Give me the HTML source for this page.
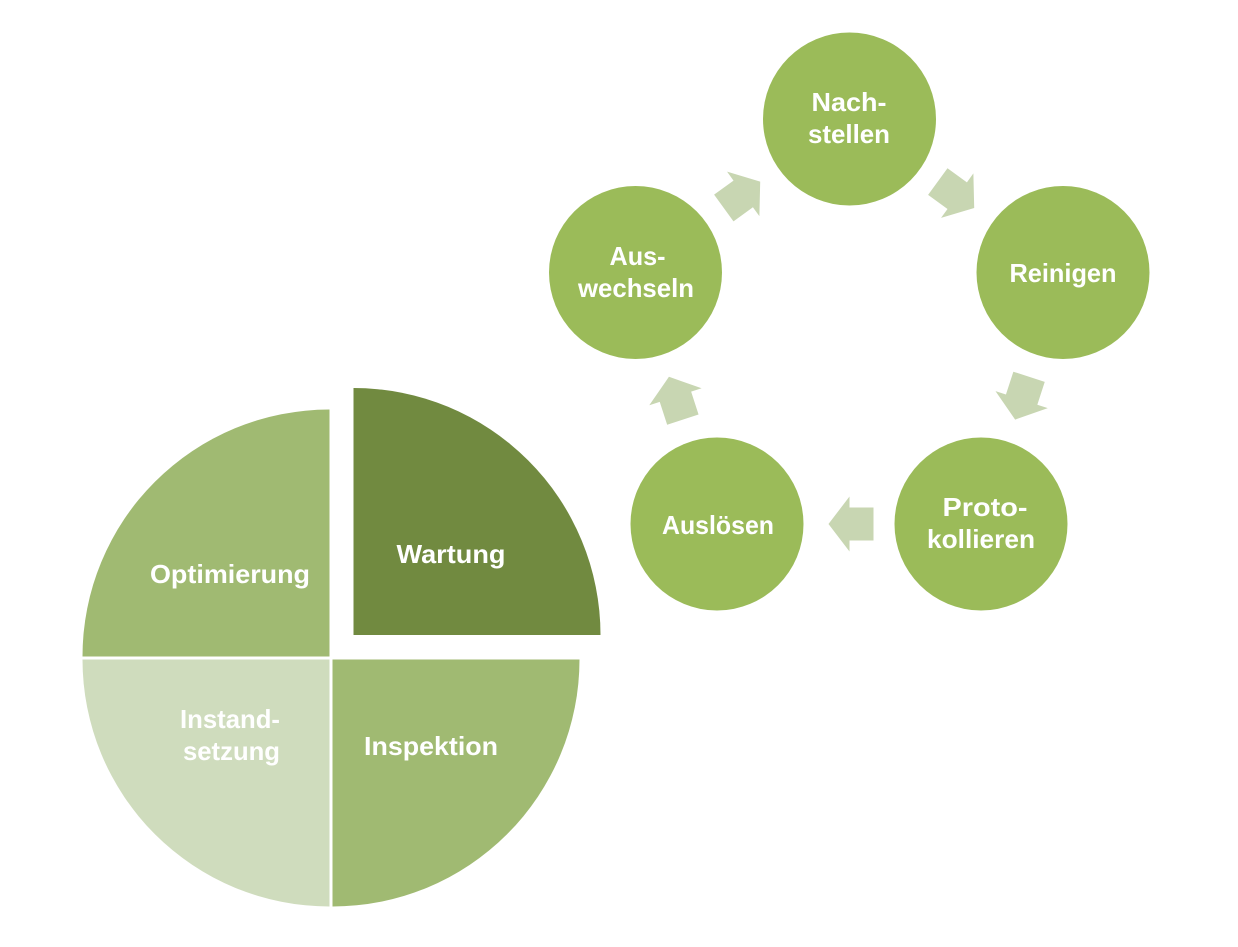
<!DOCTYPE html>
<html>
<head>
<meta charset="utf-8">
<style>
  html,body{margin:0;padding:0;background:#ffffff;}
  svg{display:block;}
  text{font-family:"Liberation Sans",Arial,sans-serif;font-weight:bold;fill:#ffffff;font-size:26px;}
</style>
</head>
<body>
<svg width="1238" height="947" viewBox="0 0 1238 947" xmlns="http://www.w3.org/2000/svg">
  <rect width="1238" height="947" fill="#ffffff"/>

  <!-- Pie -->
  <path d="M329.5,656.5 L82.5,656.5 A247,247 0 0 1 329.5,409.5 Z" fill="#a0ba72"/>
  <path d="M329.5,659.5 L329.5,906.5 A247,247 0 0 1 82.5,659.5 Z" fill="#cfdcbd"/>
  <path d="M332.5,659.5 L579.5,659.5 A247,247 0 0 1 332.5,906.5 Z" fill="#a0ba72"/>
  <path d="M353.5,635 L353.5,388 A247,247 0 0 1 600.5,635 Z" fill="#718a40"/>

  <text x="230" y="583" text-anchor="middle" textLength="160" lengthAdjust="spacingAndGlyphs">Optimierung</text>
  <text x="451" y="563" text-anchor="middle" textLength="109" lengthAdjust="spacingAndGlyphs">Wartung</text>
  <text x="230" y="728" text-anchor="middle" textLength="100" lengthAdjust="spacingAndGlyphs">Instand-</text>
  <text x="231.5" y="760" text-anchor="middle" textLength="97" lengthAdjust="spacingAndGlyphs">setzung</text>
  <text x="431" y="755" text-anchor="middle" textLength="134" lengthAdjust="spacingAndGlyphs">Inspektion</text>

  <!-- Arrows -->
  <g fill="#c8d6b2">
    <path transform="translate(956,194.8) rotate(36)" d="M22.5,0 L1.5,-27.5 L1.5,-16.5 L-22.5,-16.5 L-22.5,16.5 L1.5,16.5 L1.5,27.5 Z"/>
    <path transform="translate(1022.1,398.2) rotate(108)" d="M22.5,0 L1.5,-27.5 L1.5,-16.5 L-22.5,-16.5 L-22.5,16.5 L1.5,16.5 L1.5,27.5 Z"/>
    <path transform="translate(851,524) rotate(180)" d="M22.5,0 L1.5,-27.5 L1.5,-16.5 L-22.5,-16.5 L-22.5,16.5 L1.5,16.5 L1.5,27.5 Z"/>
    <path transform="translate(675.9,398.2) rotate(252)" d="M22.5,0 L1.5,-27.5 L1.5,-16.5 L-22.5,-16.5 L-22.5,16.5 L1.5,16.5 L1.5,27.5 Z"/>
    <path transform="translate(742,194.8) rotate(324)" d="M22.5,0 L1.5,-27.5 L1.5,-16.5 L-22.5,-16.5 L-22.5,16.5 L1.5,16.5 L1.5,27.5 Z"/>
  </g>

  <!-- Circles -->
  <g fill="#9bbb59">
    <circle cx="849.5" cy="119" r="86.5"/>
    <circle cx="1063" cy="272.5" r="86.5"/>
    <circle cx="981" cy="524" r="86.5"/>
    <circle cx="717" cy="524" r="86.5"/>
    <circle cx="635.5" cy="272.5" r="86.5"/>
  </g>

  <text x="849" y="111" text-anchor="middle" textLength="75" lengthAdjust="spacingAndGlyphs">Nach-</text>
  <text x="849" y="143" text-anchor="middle" textLength="82" lengthAdjust="spacingAndGlyphs">stellen</text>
  <text x="1063" y="282" text-anchor="middle" textLength="107" lengthAdjust="spacingAndGlyphs">Reinigen</text>
  <text x="985" y="516" text-anchor="middle" textLength="85" lengthAdjust="spacingAndGlyphs">Proto-</text>
  <text x="981" y="548" text-anchor="middle" textLength="108" lengthAdjust="spacingAndGlyphs">kollieren</text>
  <text x="718" y="534" text-anchor="middle" textLength="112" lengthAdjust="spacingAndGlyphs">Auslösen</text>
  <text x="637.5" y="265" text-anchor="middle" textLength="56" lengthAdjust="spacingAndGlyphs">Aus-</text>
  <text x="636" y="297" text-anchor="middle" textLength="116" lengthAdjust="spacingAndGlyphs">wechseln</text>
</svg>
</body>
</html>
